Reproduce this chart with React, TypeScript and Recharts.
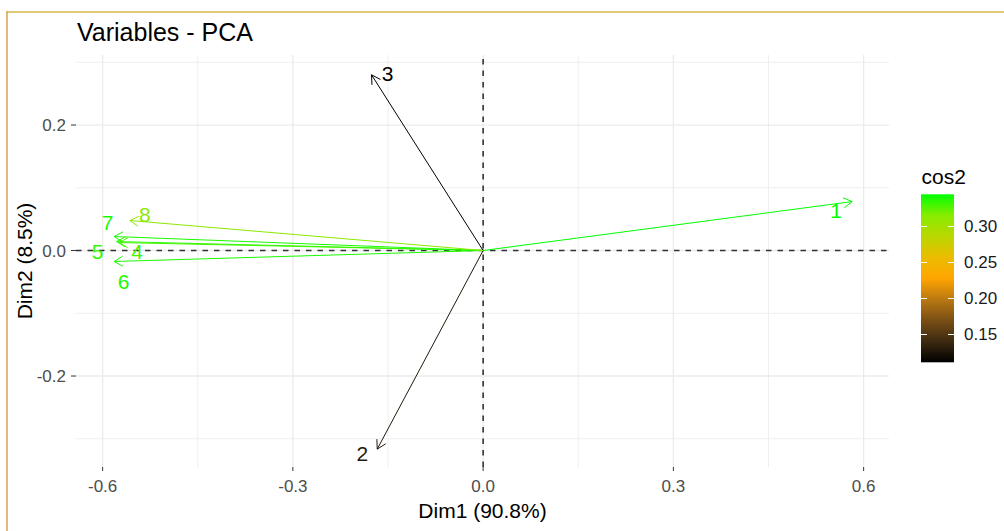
import { LineChart, Line, XAxis, YAxis, ReferenceLine } from "recharts";

// PCA variable coordinates (Dim1, Dim2) and their cos2
const varNames = ["1", "2", "3", "4", "5", "6", "7", "8"];
const dim1 = [0.582, -0.167, -0.176, -0.574, -0.578, -0.582, -0.582, -0.557];
const dim2 = [0.078, -0.3165, 0.28, 0.0127, 0.0143, -0.0175, 0.0223, 0.0478];
const cos2 = [0.345, 0.128, 0.111, 0.33, 0.334, 0.339, 0.339, 0.313];

const xTicks = [-0.6, -0.3, 0, 0.3, 0.6];
const yTicks = [-0.2, 0, 0.2];
const xMinor = [-0.45, -0.15, 0.15, 0.45];
const yMinor = [-0.3, -0.1, 0.1, 0.3];
const legendTicks = [0.15, 0.2, 0.25, 0.3];
const cos2Range = [0.1114, 0.3447];

const W = 1004;
const H = 531;
const FONT = "'Liberation Sans', Arial, sans-serif";

// label nudges (px) around each arrow tip, like ggrepel put them
const labelOffset: Record<string, [number, number]> = {
  "1": [-16, 9],
  "2": [-15, 4.5],
  "3": [16, -1],
  "4": [18, 8.5],
  "5": [-19, 10],
  "6": [9.5, 19.5],
  "7": [-6.5, -14.5],
  "8": [15, -6],
};

// black -> orange -> green, sampled in Lab space
const gradStops: [number, number[]][] = [
  [0, [0, 0, 0]],
  [0.125, [61, 42, 17]],
  [0.25, [121, 79, 20]],
  [0.375, [186, 121, 18]],
  [0.5, [255, 165, 0]],
  [0.625, [235, 188, 0]],
  [0.75, [186, 215, 0]],
  [0.875, [135, 236, 0]],
  [1, [0, 255, 0]],
];

const rgb = (c: number[]) => `rgb(${c.map((v) => Math.round(v)).join(",")})`;

function cosColor(v: number) {
  let t = (v - cos2Range[0]) / (cos2Range[1] - cos2Range[0]);
  t = Math.max(0, Math.min(1, t));
  for (let i = 1; i < gradStops.length; i++) {
    const [t1, c1] = gradStops[i];
    const [t0, c0] = gradStops[i - 1];
    if (t <= t1) {
      const f = (t - t0) / (t1 - t0);
      return rgb(c0.map((c, k) => c + (c1[k] - c) * f));
    }
  }
  return rgb(gradStops[gradStops.length - 1][1]);
}

function makeTip(name: string, color: string) {
  return (props: any) => {
    const { cx, cy, index, points, payload } = props;
    if (index === 0) return <g key={`o-${name}`} />;
    let dx: number, dy: number;
    if (points && points[0]) {
      dx = cx - points[0].x;
      dy = cy - points[0].y;
    } else {
      dx = payload.x * 634;
      dy = -payload.y * 627;
    }
    const ang = Math.atan2(dy, dx);
    const len = 10;
    const spread = Math.PI / 6;
    const a1 = ang + Math.PI - spread;
    const a2 = ang + Math.PI + spread;
    const [ox, oy] = labelOffset[name];
    return (
      <g key={`tip-${name}`}>
        <path
          d={`M${cx + len * Math.cos(a1)},${cy + len * Math.sin(a1)}L${cx},${cy}L${cx + len * Math.cos(a2)},${cy + len * Math.sin(a2)}`}
          fill="none"
          stroke={color}
          strokeWidth={1}
        />
        <text
          x={cx + ox}
          y={cy + oy}
          textAnchor="middle"
          dominantBaseline="central"
          fontSize={21}
          fontFamily={FONT}
          fill={color}
        >
          {name}
        </text>
      </g>
    );
  };
}

export default function App() {
  const barX = 921;
  const barW = 33;
  const barTop = 194.3;
  const barBottom = 362.3;
  const legY = (v: number) =>
    barBottom - ((v - cos2Range[0]) / (cos2Range[1] - cos2Range[0])) * (barBottom - barTop);

  return (
    <div style={{ position: "absolute", left: 0, top: 0, width: W, height: H, background: "#fff" }}>
      <LineChart
        width={W}
        height={H}
        margin={{ top: 55, right: 115, bottom: 0, left: 0 }}
        style={{ position: "absolute", left: 0, top: 0 }}
      >
        <XAxis
          type="number"
          dataKey="x"
          domain={[-0.642, 0.64]}
          allowDataOverflow
          ticks={xTicks}
          tickFormatter={(v: number) => v.toFixed(1)}
          axisLine={false}
          tickLine={{ stroke: "#333333", strokeWidth: 1 }}
          tickSize={4}
          tickMargin={9}
          height={64}
          tick={{ fontSize: 17, fill: "#4D4D4D", fontFamily: FONT }}
        />
        <YAxis
          type="number"
          dataKey="y"
          domain={[-0.345, 0.3116]}
          allowDataOverflow
          ticks={yTicks}
          tickFormatter={(v: number) => v.toFixed(1)}
          axisLine={false}
          tickLine={{ stroke: "#333333", strokeWidth: 1 }}
          tickSize={5}
          tickMargin={5}
          width={76}
          tick={{ fontSize: 17, fill: "#4D4D4D", fontFamily: FONT }}
        />
        {xMinor.map((v) => (
          <ReferenceLine key={`xm${v}`} x={v} stroke="#EFEFEF" strokeWidth={1} />
        ))}
        {yMinor.map((v) => (
          <ReferenceLine key={`ym${v}`} y={v} stroke="#EFEFEF" strokeWidth={1} />
        ))}
        {xTicks.map((v) => (
          <ReferenceLine key={`xg${v}`} x={v} stroke="#EBEBEB" strokeWidth={1.3} />
        ))}
        {yTicks.map((v) => (
          <ReferenceLine key={`yg${v}`} y={v} stroke="#EBEBEB" strokeWidth={1.3} />
        ))}
        <ReferenceLine x={0} stroke="#333" strokeWidth={1.6} strokeDasharray="5.5 6" />
        <ReferenceLine y={0} stroke="#333" strokeWidth={1.6} strokeDasharray="5.5 6" />
        {varNames.map((name, i) => {
          const color = cosColor(cos2[i]);
          return (
            <Line
              key={name}
              data={[
                { x: 0, y: 0 },
                { x: dim1[i], y: dim2[i] },
              ]}
              dataKey="y"
              stroke={color}
              strokeWidth={1}
              dot={makeTip(name, color)}
              activeDot={false}
              isAnimationActive={false}
            />
          );
        })}
      </LineChart>
      <svg
        width={W}
        height={H}
        style={{ position: "absolute", left: 0, top: 0, pointerEvents: "none" }}
        fontFamily={FONT}
      >
        <defs>
          <linearGradient id="cosGrad" x1="0" y1="1" x2="0" y2="0">
            {gradStops.map(([t, c]) => (
              <stop key={t} offset={`${t * 100}%`} stopColor={rgb(c)} />
            ))}
          </linearGradient>
        </defs>
        <line x1={7} y1={12} x2={W} y2={12} stroke="#E1C878" strokeWidth={2} />
        <line x1={7} y1={11} x2={7} y2={H} stroke="#D6A54A" strokeWidth={1.5} />
        <text x={77} y={41} fontSize={25} fill="#000">
          Variables - PCA
        </text>
        <text x={482.5} y={518} fontSize={21} textAnchor="middle" fill="#000">
          Dim1 (90.8%)
        </text>
        <text
          x={31.5}
          y={261}
          fontSize={21}
          textAnchor="middle"
          fill="#000"
          transform="rotate(-90 31.5 261)"
        >
          Dim2 (8.5%)
        </text>
        <text x={921.5} y={183.5} fontSize={21} fill="#000">
          cos2
        </text>
        <rect x={barX} y={barTop} width={barW} height={barBottom - barTop} fill="url(#cosGrad)" />
        {legendTicks.map((v) => (
          <g key={v}>
            <line x1={barX} x2={barX + 6} y1={legY(v)} y2={legY(v)} stroke="#fff" strokeWidth={1} />
            <line
              x1={barX + barW - 6}
              x2={barX + barW}
              y1={legY(v)}
              y2={legY(v)}
              stroke="#fff"
              strokeWidth={1}
            />
            <text x={964} y={legY(v)} fontSize={17} dominantBaseline="central" fill="#1A1A1A">
              {v.toFixed(2)}
            </text>
          </g>
        ))}
      </svg>
    </div>
  );
}
